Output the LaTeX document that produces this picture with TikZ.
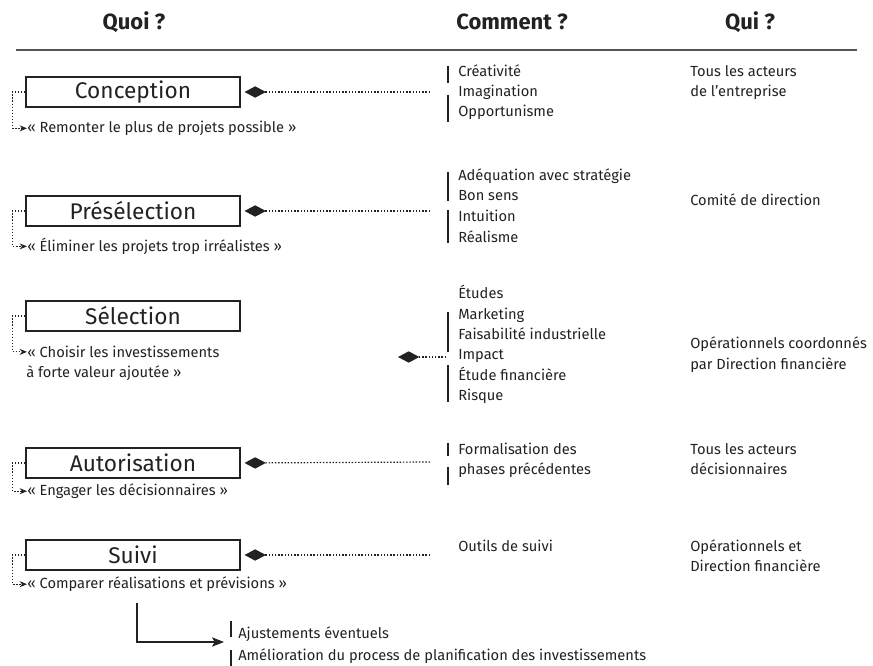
\documentclass[tikz,border=0pt]{standalone}
\usepackage{fontspec}
\setmainfont{Fira Sans}
\usetikzlibrary{arrows.meta}
\definecolor{ink}{HTML}{222222}
\definecolor{rulegray}{HTML}{555555}
\begin{document}
\begin{tikzpicture}[x=0.75pt,y=-0.75pt,
  hdr/.style={font=\bfseries\fontsize{16.5}{19}\selectfont,text=ink,inner sep=0pt},
  stage/.style={draw=ink,line width=0.8pt,minimum width=160.5pt,minimum height=22.5pt,inner sep=0pt,font=\fontsize{17}{20}\selectfont,text=ink},
  txt/.style={anchor=mid west,inner sep=0pt,font=\fontsize{11}{15}\selectfont,text=ink},
  link/.style={draw=ink,line width=0.9pt,dash pattern=on 1.1pt off 1.3pt,-{Diamond[length=16pt,width=8.5pt]},shorten >=3pt},
  freelink/.style={draw=ink,line width=0.9pt,dash pattern=on 1.1pt off 1.3pt,-{Diamond[length=16pt,width=8.5pt]}},
  back/.style={draw=ink,line width=0.8pt,dash pattern=on 1pt off 1.3pt,-{Stealth[length=5.5pt,width=4.5pt]}},
  bar/.style={draw=ink,line width=0.8pt},
  solidarrow/.style={draw=ink,line width=0.8pt,-{Stealth[length=9pt,width=7pt,inset=2pt]}}
]
\useasboundingbox (0,0) rectangle (873,666);

% headers
\node[hdr] (hquoi) at (134,22) {Quoi ?};
\node[hdr] (hcomm) at (512,22) {Comment ?};
\node[hdr] (hqui) at (750,22) {Qui ?};
\coordinate (rl) at (16,50);
\coordinate (rr) at (857,50);
\draw[rulegray,line width=1.3pt] (rl) -- (rr);

% stages
\node[stage] (conc) at (133,92) {Conception};
\node[stage] (pres) at (133,211) {Présélection};
\node[stage] (sele) at (133,316) {Sélection};
\node[stage] (auto) at (133,463) {Autorisation};
\node[stage] (suiv) at (133,555) {Suivi};

% quotes
\node[txt] (q1) at (27,129) {« Remonter le plus de projets possible »};
\node[txt] (q2) at (27,248) {« Éliminer les projets trop irréalistes »};
\node[txt] (q3) at (27,354) {« Choisir les investissements};
\node[txt] (q3b) at (26,374) {à forte valeur ajoutée »};
\node[txt] (q4) at (27,492) {« Engager les décisionnaires »};
\node[txt] (q5) at (27,585) {« Comparer réalisations et prévisions »};

\foreach \s/\q in {conc/q1,pres/q2,sele/q3,auto/q4,suiv/q5}
  \draw[back] (\s.west) -- ++(-13,0) |- (\q.west);

% comment column
\node[txt] (c1a) at (458,73) {Créativité};
\node[txt] (c1b) at (458,93) {Imagination};
\node[txt] (c1c) at (458,113) {Opportunisme};
\node[txt] (c2a) at (458,177) {Adéquation avec stratégie};
\node[txt] (c2b) at (458,197) {Bon sens};
\node[txt] (c2c) at (458,218) {Intuition};
\node[txt] (c2d) at (458,239) {Réalisme};
\node[txt] (c3a) at (458,295) {Études};
\node[txt] (c3b) at (458,316) {Marketing};
\node[txt] (c3c) at (458,336) {Faisabilité industrielle};
\node[txt] (c3d) at (458,356) {Impact};
\node[txt] (c3e) at (458,377) {Étude financière};
\node[txt] (c3f) at (458,397) {Risque};
\node[txt] (c4a) at (458,451) {Formalisation des};
\node[txt] (c4b) at (458,471) {phases précédentes};
\node[txt] (c5a) at (458,548) {Outils de suivi};

% bars
\coordinate (b1a) at (448,66);  \coordinate (b1b) at (448,83);
\coordinate (b1c) at (448,95);  \coordinate (b1d) at (448,122);
\coordinate (b2a) at (448,172); \coordinate (b2b) at (448,201);
\coordinate (b2c) at (448,210); \coordinate (b2d) at (448,243);
\coordinate (b3a) at (448,312); \coordinate (b3b) at (448,352);
\coordinate (b3c) at (448,365); \coordinate (b3d) at (448,402);
\coordinate (b4a) at (448,443); \coordinate (b4b) at (448,456);
\coordinate (b4c) at (448,467); \coordinate (b4d) at (448,485);
\foreach \a/\b in {b1a/b1b,b1c/b1d,b2a/b2b,b2c/b2d,b3a/b3b,b3c/b3d,b4a/b4b,b4c/b4d}
  \draw[bar] (\a) -- (\b);

% connectors
\coordinate (k1) at (430,92);
\coordinate (k2) at (430,211);
\coordinate (k3) at (446,357);
\coordinate (k3d) at (398,357);
\coordinate (k4) at (430,462);
\coordinate (k5) at (430,555);
\draw[link] (k1) -- (conc.east);
\draw[link] (k2) -- (pres.east);
\draw[freelink] (k3) -- (k3d);
\draw[link] (k4) -- (auto.east);
\draw[link] (k5) -- (suiv.east);

% qui column
\node[txt] (w1a) at (690,73) {Tous les acteurs};
\node[txt] (w1b) at (690,93) {de l’entreprise};
\node[txt] (w2a) at (690,202) {Comité de direction};
\node[txt] (w3a) at (690,345) {Opérationnels coordonnés};
\node[txt] (w3b) at (690,366) {par Direction financière};
\node[txt] (w4a) at (690,451) {Tous les acteurs};
\node[txt] (w4b) at (690,471) {décisionnaires};
\node[txt] (w5a) at (690,548) {Opérationnels et};
\node[txt] (w5b) at (690,568) {Direction financière};

% bottom
\node[txt] (f1) at (238,635) {Ajustements éventuels};
\node[txt] (f2) at (238,657) {Amélioration du process de planification des investissements};
\coordinate (fa) at (137,603);
\coordinate (fb) at (224,642);
\draw[solidarrow] (fa) |- (fb);
\coordinate (fc1) at (231,621); \coordinate (fc2) at (231,637);
\coordinate (fc3) at (231,650); \coordinate (fc4) at (231,666);
\draw[bar] (fc1) -- (fc2);
\draw[bar] (fc3) -- (fc4);
\end{tikzpicture}
\end{document}
